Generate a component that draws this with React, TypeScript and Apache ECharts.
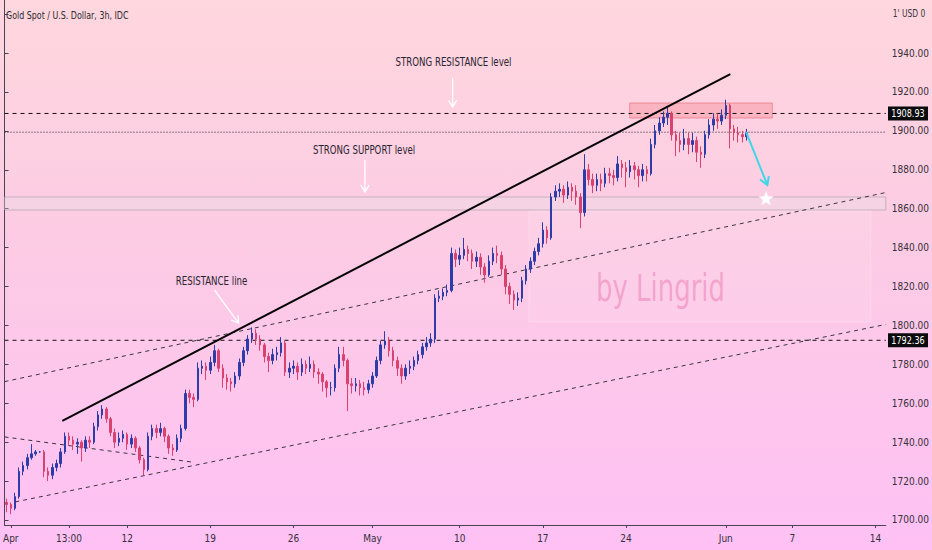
import React, { useEffect, useRef } from "react";
import * as echarts from "echarts";

// ---------- data ----------
const SLOT_COUNT = 212; // 6-hour slots on the time axis (4 per trading day)
const FIRST_OPEN = 1709;

const closes = [
  1708, 1706, 1712, 1725, 1728, 1732, 1734, 1735, 1735, 1725,
  1723, 1727, 1729, 1735, 1743, 1741, 1739, 1740, 1737, 1741,
  1740, 1748, 1754, 1757, 1752, 1745, 1740, 1742, 1744, 1739,
  1742, 1737, 1731, 1726, 1743, 1747, 1745, 1747, 1743, 1737,
  1736, 1742, 1747, 1765, 1763, 1762, 1778, 1779, 1777, 1781,
  1787, 1778, 1773, 1771, 1770, 1774, 1781, 1787, 1793, 1796,
  1793, 1790, 1784, 1782, 1785, 1786, 1791, 1776, 1778, 1779,
  1776, 1780, 1778, 1780, 1776, 1775, 1771, 1768, 1768, 1778,
  1785, 1782, 1770, 1769, 1770, 1768, 1767, 1770, 1774, 1782,
  1790, 1792, 1787, 1782, 1778, 1774, 1778, 1779, 1782, 1785,
  1789, 1791, 1793, 1814, 1815, 1817, 1818, 1837, 1834, 1836,
  1839, 1837, 1833, 1835, 1830, 1826, 1833, 1837, 1836, 1829,
  1820, 1816, 1813, 1814, 1823, 1829, 1833, 1838, 1842, 1849,
  1845, 1866, 1869, 1870, 1867, 1871, 1869, 1866, 1858, 1880,
  1875, 1872, 1875, 1873, 1878, 1877, 1876, 1883, 1881, 1879,
  1882, 1880, 1877, 1880, 1878, 1893, 1900, 1904, 1907, 1909,
  1898, 1895, 1893, 1896, 1893, 1895, 1889, 1888, 1898, 1903,
  1906, 1905, 1908, 1913, 1901, 1899, 1898, 1897, 1899,
];

const lows = [
  1704, 1703, 1705, 1711, 1723, 1726, 1731, 1733, 1734.5, 1722,
  1720, 1721, 1725, 1727, 1734, 1738, 1736, 1734, 1730, 1735,
  1737, 1739, 1746, 1752, 1750, 1743, 1737, 1738, 1740, 1736,
  1737, 1735, 1729, 1723, 1725, 1741, 1742, 1743, 1740, 1734,
  1733, 1735, 1740, 1746, 1760, 1758, 1761, 1775, 1772, 1775,
  1779, 1776, 1768, 1767, 1766, 1768, 1772, 1779, 1785, 1791,
  1790, 1787, 1781, 1776, 1780, 1782, 1784, 1774, 1773, 1775,
  1772, 1774, 1775, 1776, 1773, 1770, 1766, 1763, 1764, 1766,
  1776, 1779, 1756, 1765, 1766, 1764, 1764, 1765, 1768, 1773,
  1780, 1788, 1784, 1779, 1774, 1770, 1772, 1775, 1777, 1780,
  1783, 1787, 1789, 1791, 1812, 1813, 1815, 1817, 1830, 1831,
  1834, 1833, 1829, 1830, 1826, 1822, 1825, 1831, 1832, 1826,
  1816, 1811, 1808, 1810, 1812, 1821, 1827, 1831, 1836, 1840,
  1842, 1844, 1864, 1866, 1863, 1865, 1864, 1862, 1850, 1856,
  1872, 1868, 1869, 1869, 1871, 1873, 1872, 1874, 1876, 1871,
  1876, 1875, 1871, 1874, 1874, 1877, 1891, 1898, 1902, 1903,
  1895, 1887, 1889, 1890, 1888, 1889, 1884, 1881, 1886, 1896,
  1900, 1901, 1903, 1906, 1891, 1895, 1894, 1894, 1895,
];

const highs = [
  1711, 1709, 1714, 1727, 1730, 1734, 1739, 1736, 1735.5, 1736,
  1727, 1729, 1731, 1737, 1745, 1745, 1743, 1742, 1741, 1743,
  1743, 1750, 1756, 1759, 1758, 1753, 1747, 1745, 1746, 1745,
  1744, 1743, 1738, 1732, 1745, 1749, 1749, 1750, 1748, 1744,
  1739, 1744, 1749, 1767, 1767, 1765, 1781, 1782, 1781, 1784,
  1790, 1788, 1780, 1775, 1773, 1776, 1783, 1789, 1795, 1799,
  1798, 1795, 1791, 1786, 1788, 1789, 1794, 1792, 1781, 1782,
  1781, 1783, 1782, 1784, 1782, 1778, 1776, 1772, 1771, 1780,
  1789, 1789, 1783, 1773, 1773, 1772, 1771, 1772, 1776, 1784,
  1792, 1797, 1794, 1789, 1784, 1780, 1780, 1782, 1784, 1787,
  1791, 1794, 1796, 1816, 1818, 1819, 1821, 1840, 1839, 1840,
  1845, 1841, 1839, 1838, 1837, 1832, 1836, 1840, 1841, 1838,
  1831, 1822, 1818, 1817, 1825, 1831, 1835, 1840, 1845, 1853,
  1851, 1868, 1872, 1873, 1872, 1874, 1873, 1872, 1868, 1888,
  1883, 1878, 1878, 1878, 1881, 1881, 1880, 1887, 1885, 1884,
  1885, 1884, 1882, 1883, 1882, 1896, 1903, 1907, 1910, 1912,
  1910, 1900, 1899, 1901, 1899, 1899, 1897, 1892, 1900, 1906,
  1909, 1909, 1911, 1916, 1914, 1903, 1902, 1900, 1901,
];

const tickSlots = [1, 15, 29, 49, 69, 88, 109, 129, 149, 173, 189, 209];
const tickTexts = ["Apr", "13:00", "12", "19", "26", "May", "10", "17", "24", "Jun", "7", "14"];

const Y_MIN = 1697.43;
const Y_MAX = 1967.24;

const RESISTANCE_LEVEL = 1908.93;
const LOWER_LEVEL = 1792.36;
const LAST_PRICE = 1899.3;

// drawings, in [slot position, price]
const resistanceZone = [[150.4, 1906.6], [184.7, 1914.3]];
const supportZone = [[0, 1859.3], [212, 1866.0]];
const projectionBox = [[126.2, 1801.8], [208.4, 1858.8]];
const resistanceLine = [[13.9, 1750.9], [174.6, 1929.2]];
const channelUpper = [[0, 1771.1], [212, 1868.3]];
const channelLower = [[2.6, 1709.3], [212, 1800.5]];
const earlyLine = [[0, 1742.7], [45.0, 1729.8]];

const noteTexts = ["STRONG RESISTANCE level", "STRONG SUPPORT level", "RESISTANCE line"];
const notePoints = [[108.0, 1935.4], [86.5, 1890.2], [49.8, 1822.8]];
const whiteArrows = [
  [[107.8, 1927.2], [107.8, 1912.3]],
  [[86.7, 1885.0], [86.7, 1868.6]],
  [[50.5, 1818.2], [56.3, 1801.2]],
];
const forecastArrow = [[178.4, 1899.4], [183.5, 1872.2]];
const targetStar = [183.2, 1865.0];
const watermarkPoint = [157.8, 1819.2];

// ---------- styling ----------
const FONT = '"Liberation Sans Narrow", "DejaVu Sans Condensed", "Open Sans", sans-serif';
const AXIS_COLOR = "#4b4254";
const UP = "#2e3ca8";
const DOWN = "#d9426f";
const GRID_LEFT = 2;
const GRID_WIDTH = 885.1;
const GRID_HEIGHT = 525;
const NARROW = 0.8;

export default function App() {
  const ref = useRef<HTMLDivElement>(null);

  useEffect(() => {
    if (!ref.current) return;
    const chart = echarts.init(ref.current, null, { renderer: "svg" });

    const categories = Array.from({ length: SLOT_COUNT }, (_, i) => "s" + i);
    const candles = closes.map((c, i) => [i === 0 ? FIRST_OPEN : closes[i - 1], c, lows[i], highs[i]]);
    const labelFor = (i: number) => {
      const k = tickSlots.indexOf(i);
      return k >= 0 ? tickTexts[k] : "";
    };
    const isTick = (i: number) => tickSlots.indexOf(i) >= 0;

    const lineSeries = (data: number[][], style: any, z = 4) => ({
      type: "line",
      xAxisIndex: 1,
      yAxisIndex: 0,
      data,
      symbol: "none",
      silent: true,
      z,
      lineStyle: style,
    });

    chart.setOption({
      animation: false,
      backgroundColor: "transparent",
      grid: { left: GRID_LEFT, top: 0, width: GRID_WIDTH, height: GRID_HEIGHT, containLabel: false },
      xAxis: [
        {
          type: "category",
          data: categories,
          boundaryGap: true,
          axisLine: { show: true, lineStyle: { color: AXIS_COLOR, width: 1 } },
          axisTick: { show: true, alignWithLabel: true, interval: (i: number) => isTick(i), length: 3, lineStyle: { color: AXIS_COLOR } },
          axisLabel: {
            interval: (i: number) => isTick(i),
            formatter: (_v: string, i: number) => labelFor(i),
            color: "#35303a",
            fontSize: 10,
            fontFamily: FONT,
            margin: 8,
          },
          splitLine: { show: false },
        },
        { type: "value", min: 0, max: SLOT_COUNT, show: false },
      ],
      yAxis: {
        type: "value",
        position: "right",
        min: Y_MIN,
        max: Y_MAX,
        minInterval: 20,
        maxInterval: 20,
        axisLine: { show: true, lineStyle: { color: AXIS_COLOR, width: 1 } },
        axisTick: { show: true, length: 4, lineStyle: { color: AXIS_COLOR } },
        splitLine: { show: false },
        axisLabel: {
          showMinLabel: false,
          showMaxLabel: false,
          color: "#35303a",
          fontSize: 10,
          fontFamily: FONT,
          margin: 6,
          formatter: (v: number) => (v >= 1699 && v <= 1941 ? v.toFixed(2) : ""),
        },
      },
      series: [
        {
          type: "line",
          xAxisIndex: 1,
          yAxisIndex: 0,
          data: [[0, 1700]],
          symbol: "none",
          silent: true,
          lineStyle: { opacity: 0 },
          z: 1,
          markArea: {
            silent: true,
            data: [
              [
                { coord: supportZone[0], itemStyle: { color: "rgba(232,226,232,0.3)", borderColor: "rgba(165,155,168,0.6)", borderWidth: 1 } },
                { coord: supportZone[1] },
              ],
              [
                { coord: projectionBox[0], itemStyle: { color: "rgba(255,255,255,0.09)", borderColor: "rgba(255,255,255,0.22)", borderWidth: 1 } },
                { coord: projectionBox[1] },
              ],
              [
                { coord: resistanceZone[0], itemStyle: { color: "rgba(240,90,100,0.25)", borderColor: "rgba(225,85,95,0.5)", borderWidth: 1 } },
                { coord: resistanceZone[1] },
              ],
            ],
          },
        },
        lineSeries([[0, RESISTANCE_LEVEL], [SLOT_COUNT, RESISTANCE_LEVEL]], { color: "#111", width: 1, type: [4, 4] }),
        lineSeries([[0, LOWER_LEVEL], [SLOT_COUNT, LOWER_LEVEL]], { color: "#111", width: 1, type: [4, 4] }),
        lineSeries([[0, LAST_PRICE], [SLOT_COUNT, LAST_PRICE]], { color: "#1e1a22", width: 1, type: [1, 2] }),
        lineSeries(channelUpper, { color: "#3a3440", width: 1, type: [4, 4] }),
        lineSeries(channelLower, { color: "#3a3440", width: 1, type: [4, 4] }),
        lineSeries(earlyLine, { color: "#3a3440", width: 1, type: [4, 4] }),
        {
          type: "candlestick",
          xAxisIndex: 0,
          yAxisIndex: 0,
          data: candles,
          barWidth: 2,
          silent: true,
          z: 5,
          itemStyle: { color: UP, color0: DOWN, borderColor: UP, borderColor0: DOWN, borderWidth: 1 },
        },
        lineSeries(resistanceLine, { color: "#050505", width: 2 }, 8),
      ],
    });

    const P = (pt: number[]) => chart.convertToPixel({ xAxisIndex: 1, yAxisIndex: 0 } as any, pt) as number[];
    const g: any[] = [];

    const arrow = (from: number[], to: number[], color: string, width: number, head: number) => {
      const [x1, y1] = P(from);
      const [x2, y2] = P(to);
      const ang = Math.atan2(y2 - y1, x2 - x1);
      const a1 = ang + Math.PI - 0.55;
      const a2 = ang + Math.PI + 0.55;
      g.push({ type: "line", silent: true, z: 20, shape: { x1, y1, x2, y2 }, style: { stroke: color, lineWidth: width } });
      g.push({
        type: "polyline",
        silent: true,
        z: 20,
        shape: {
          points: [
            [x2 + head * Math.cos(a1), y2 + head * Math.sin(a1)],
            [x2, y2],
            [x2 + head * Math.cos(a2), y2 + head * Math.sin(a2)],
          ],
        },
        style: { stroke: color, lineWidth: width, fill: null },
      });
    };

    // title
    g.push({
      type: "text", x: 6, y: 15, scaleX: 0.84, silent: true, z: 30,
      style: { text: "Gold Spot / U.S. Dollar, 3h, IDC", fill: "#2a2a2e", fontSize: 10.5, fontFamily: FONT, verticalAlign: "middle" },
    });
    // currency label
    g.push({
      type: "text", x: 909, y: 13, scaleX: NARROW, silent: true, z: 30,
      style: { text: "1' USD 0", fill: "#3a3540", fontSize: 10.5, fontFamily: FONT, align: "center", verticalAlign: "middle" },
    });

    // watermark
    const [wx, wy] = P(watermarkPoint);
    g.push({
      type: "text", x: wx, y: wy, scaleX: 0.78, silent: true, z: 2,
      style: { text: "by Lingrid", fill: "rgba(232,110,170,0.45)", fontSize: 37, fontFamily: FONT, align: "center", verticalAlign: "middle" },
    });

    // notes
    noteTexts.forEach((t, i) => {
      const [x, y] = P(notePoints[i]);
      g.push({
        type: "text", x, y, scaleX: NARROW, silent: true, z: 25,
        style: { text: t, fill: "#2a2430", fontSize: 12, fontFamily: FONT, align: "center", verticalAlign: "middle" },
      });
    });
    whiteArrows.forEach((a) => arrow(a[0], a[1], "#ffffff", 1.3, 8));
    arrow(forecastArrow[0], forecastArrow[1], "#3fd6e6", 2, 9);

    // star
    const [sx, sy] = P(targetStar);
    const starPts: number[][] = [];
    for (let i = 0; i < 10; i++) {
      const r = i % 2 === 0 ? 7.5 : 3.2;
      const a = -Math.PI / 2 + (i * Math.PI) / 5;
      starPts.push([sx + r * Math.cos(a), sy + r * Math.sin(a)]);
    }
    g.push({ type: "polygon", silent: true, z: 26, shape: { points: starPts }, style: { fill: "#ffffff", stroke: "#f4eef6", lineWidth: 0.5 } });

    // price tags on the axis
    [RESISTANCE_LEVEL, LOWER_LEVEL].forEach((v) => {
      const y = P([0, v])[1];
      g.push({ type: "rect", silent: true, z: 30, shape: { x: 888, y: y - 7, width: 40, height: 14 }, style: { fill: "#0b0b0c" } });
      g.push({
        type: "text", x: 908, y, scaleX: 0.82, silent: true, z: 31,
        style: { text: v.toFixed(2), fill: "#ffffff", fontSize: 11, fontFamily: FONT, align: "center", verticalAlign: "middle" },
      });
    });

    chart.setOption({ graphic: g });

    return () => chart.dispose();
  }, []);

  return (
    <div
      ref={ref}
      style={{
        position: "absolute",
        left: 0,
        top: 0,
        width: 932,
        height: 550,
        background: "linear-gradient(to bottom, #ffd7de 0%, #fccbe4 45%, #ffc1f5 100%)",
      }}
    />
  );
}
